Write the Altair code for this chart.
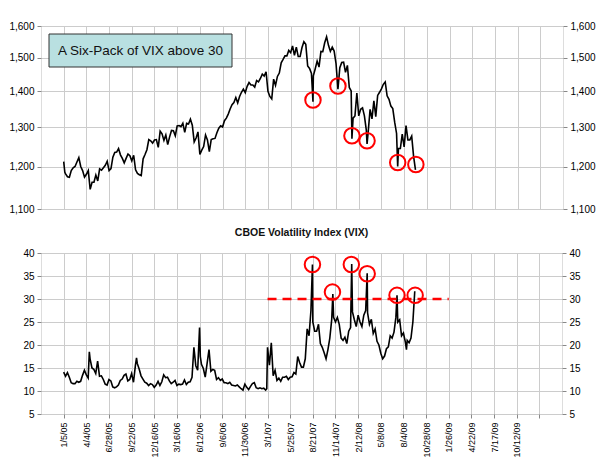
import altair as alt
import pandas as pd

# ---------------- data ----------------
DATE_LABELS = ["1/5/05", "4/4/05", "6/28/05", "9/22/05", "12/16/05", "3/16/06", "6/12/06",
               "9/6/06", "11/30/06", "3/1/07", "5/25/07", "8/21/07", "11/14/07", "2/12/08",
               "5/8/08", "8/4/08", "10/28/08", "1/26/09", "4/22/09", "7/17/09", "10/12/09", ""]
TICK_IDX = [i * 60 for i in range(len(DATE_LABELS))]

SPX_IDX = [0, 3, 5, 10, 15, 20, 25, 30, 35, 40, 45, 50, 55, 60, 65, 70, 75, 80, 85, 90, 95, 100,
           105, 110, 115, 120, 125, 130, 135, 140, 145, 150, 155, 160, 165, 170, 175, 180, 185,
           190, 195, 200, 205, 210, 215, 220, 225, 230, 235, 240, 245, 250,
           255, 260, 265, 270, 275, 280, 285, 290, 295, 300, 305, 310, 315, 320, 325, 330, 335,
           340, 345, 350, 355, 360, 365, 370, 375, 380, 385, 390, 395, 400, 405, 410, 415, 420,
           425, 430, 435, 440, 445, 450, 455, 460, 465, 470, 475, 480, 485, 490, 495, 500,
           505, 510, 515, 520, 525, 530, 535, 540, 545, 550, 555, 560, 565, 570, 575, 580, 585,
           590, 595, 600, 605, 610, 615, 620, 625, 630, 635, 640, 645, 650, 655, 659, 660, 665,
           670, 675, 680, 685, 690, 695, 700, 705, 710, 715, 720, 725, 730, 735, 740, 745, 750,
           755, 760, 762, 765, 770, 775, 780, 785, 790, 795, 800, 802, 805, 810, 815, 820, 825,
           830, 835, 840, 845, 850, 855, 860, 865, 870, 875, 880, 883, 885, 890, 895, 900, 905,
           910, 915, 920, 925, 930]
SPX = [1212, 1186, 1182, 1175, 1174, 1190, 1197, 1200, 1211, 1222, 1200, 1190, 1174, 1181, 1190,
       1145, 1162, 1162, 1179, 1165, 1194, 1191, 1197, 1203, 1213, 1190, 1195, 1223, 1235, 1236,
       1245, 1229, 1220, 1209, 1220, 1231, 1227, 1214, 1228, 1192, 1183, 1180, 1178, 1219, 1230,
       1242, 1268, 1265, 1259, 1267, 1268, 1248,
       1290, 1283, 1266, 1280, 1255, 1275, 1292, 1291, 1278, 1304, 1305, 1302, 1311, 1287, 1311,
       1309, 1322, 1306, 1262, 1272, 1288, 1230, 1241, 1250, 1280, 1267, 1237, 1268, 1270, 1271,
       1286, 1298, 1304, 1301, 1318, 1325, 1336, 1350, 1362, 1368, 1382, 1367, 1385, 1397, 1406,
       1396, 1414, 1425, 1418, 1418,
       1412, 1431, 1427, 1437, 1450, 1444, 1457, 1400, 1385, 1378, 1435, 1417, 1443, 1453, 1484,
       1494, 1505, 1505, 1522, 1515, 1536, 1507, 1532, 1503, 1503, 1531, 1549, 1541, 1474, 1467,
       1452, 1370, 1445, 1466, 1489, 1471, 1519, 1518, 1546, 1565, 1538, 1519, 1532, 1520, 1481,
       1406, 1469, 1485, 1486, 1455, 1476,
       1411, 1401, 1270, 1325, 1331, 1395, 1331, 1349, 1353, 1331, 1293, 1257, 1288, 1349, 1323,
       1373, 1329, 1388, 1397, 1407, 1420, 1427, 1387, 1377, 1358, 1351, 1314, 1284, 1200, 1245,
       1245, 1282, 1249, 1305, 1267, 1267, 1277, 1225, 1192]

VIX_IDX = [0, 5, 10, 15, 20, 25, 30, 35, 40, 45, 50, 55, 60, 65, 68, 70, 75, 80, 85, 90, 95, 100,
           105, 110, 115, 120, 125, 130, 135, 140, 145, 150, 155, 160, 165, 170, 175, 180, 185,
           190, 193, 195, 200, 205, 210, 215, 220, 225, 230, 235, 240, 245, 250,
           255, 260, 265, 270, 275, 280, 285, 290, 295, 300, 305, 310, 315, 320, 325, 330, 335,
           340, 345, 350, 355, 360, 362, 365, 370, 375, 380, 385, 390, 395, 400, 405, 410, 415,
           420, 425, 430, 435, 440, 445, 450, 455, 460, 465, 470, 475, 480, 485, 490, 495, 500,
           505, 510, 515, 520, 525, 530, 535, 538, 540, 545, 550, 555, 560, 565, 570, 575, 580,
           585, 590, 595, 600, 605, 610, 615, 620, 625, 630, 635, 640, 645, 650, 655, 659, 660,
           665, 670, 675, 680, 685, 690, 695, 700, 705, 710, 713, 715, 720, 725, 730, 735, 740,
           745, 750,
           755, 760, 763, 765, 770, 775, 780, 785, 790, 795, 800, 804, 805, 810, 815, 820, 825,
           830, 835, 840, 845, 850, 855, 860, 865, 870, 875, 880, 883, 885, 890, 895, 900, 905,
           908, 910, 915, 920, 925, 930]
VIX = [14.1, 13.2, 14.0, 13.0, 11.8, 11.6, 11.6, 12.1, 11.9, 12.1, 13.4, 14.5, 13.5, 12.8, 18.5,
       17.0, 15.0, 14.7, 13.8, 16.5, 13.2, 13.3, 12.5, 11.5, 11.3, 12.5, 12.2, 10.9, 10.7, 10.9,
       11.3, 12.3, 12.6, 13.4, 13.7, 12.2, 12.5, 13.8, 11.9, 15.5, 17.2, 16.0, 14.8, 13.3, 12.6,
       11.9, 11.7, 11.2, 11.6, 11.4, 10.8, 11.3, 12.1,
       11.2, 12.0, 13.5, 12.9, 13.0, 12.2, 11.6, 11.9, 12.3, 11.2, 11.5, 11.4, 11.5, 12.4, 11.4,
       11.9, 12.0, 13.0, 19.5, 15.5, 14.5, 23.8, 17.5, 15.8, 14.9, 13.0, 16.0, 19.0, 14.3, 14.7,
       14.5, 12.5, 12.9, 12.3, 12.6, 11.8, 11.8, 11.6, 11.9, 11.3, 11.2, 11.1, 11.3, 10.9, 10.5,
       10.2, 11.5, 10.8, 10.3, 11.0, 11.6,
       11.8, 10.7, 10.5, 10.7, 10.5, 10.6, 10.2, 10.5, 19.5, 15.6, 20.5, 13.3, 14.5, 12.3, 12.8,
       12.1, 13.0, 13.0, 13.2, 12.5, 13.0, 13.1, 14.0, 13.7, 17.5, 16.2, 15.2, 15.2, 17.0, 23.5,
       22.0, 27.5, 37.5, 25.0, 23.0, 23.0, 24.5, 20.3, 19.5, 18.3, 17.0, 19.0, 21.5, 25.5, 31.1,
       26.0, 25.0, 26.0, 24.5, 21.5, 21.0, 21.7, 20.3,
       23.0, 23.8, 37.6, 27.2, 25.5, 24.0, 26.5, 25.0, 24.0, 26.5, 27.5, 35.6, 27.0, 24.5, 25.6,
       22.5, 23.5, 20.8, 20.0, 18.2, 17.0, 17.6, 19.2, 19.6, 22.0, 21.5, 22.8, 26.0, 30.8, 25.0,
       25.5, 22.0, 22.6, 20.7, 19.0, 21.0, 20.5, 21.5, 25.0, 31.7]

SPX_CIRCLE_IDX = [659, 725, 762, 802, 883, 931]
SPX_CIRCLE_VAL = [1375, 1415, 1278, 1265, 1210, 1205]
VIX_CIRCLE_IDX = [659, 712, 762, 804, 883, 931]
VIX_CIRCLE_VAL = [37.5, 31.5, 37.5, 35.5, 30.8, 30.8]

THRESHOLD = 30
THRESH_START = 540
THRESH_END = 1020

BOX_TEXT = "A Six-Pack of VIX above 30"
BOTTOM_TITLE = "CBOE Volatility Index (VIX)"
SPX_TICKS = [1100, 1200, 1300, 1400, 1500, 1600]
VIX_TICKS = [5, 10, 15, 20, 25, 30, 35, 40]

# ---------------- frames ----------------
spx_df = pd.DataFrame({"i": SPX_IDX, "v": SPX})
vix_df = pd.DataFrame({"i": VIX_IDX, "v": VIX})
spx_c = pd.DataFrame({"i": SPX_CIRCLE_IDX, "v": SPX_CIRCLE_VAL})
vix_c = pd.DataFrame({"i": VIX_CIRCLE_IDX, "v": VIX_CIRCLE_VAL})
thr_df = pd.DataFrame({"i": [THRESH_START], "i2": [THRESH_END], "v": [THRESHOLD]})
box_df = pd.DataFrame({"t": [BOX_TEXT]})

FONT = "Liberation Sans"
GRID = "#cccccc"
W = 522

xscale = alt.Scale(domain=[-60, 1320], nice=False, zero=False)
label_list = "[" + ",".join("'" + s + "'" for s in DATE_LABELS) + "]"

x_top = alt.X("i:Q", scale=xscale,
              axis=alt.Axis(values=TICK_IDX, labels=False, ticks=False, domain=False,
                            title=None, grid=True, gridColor=GRID))
x_bot = alt.X("i:Q", scale=xscale,
              axis=alt.Axis(values=TICK_IDX, labelExpr=label_list + "[round(datum.value/60)]",
                            labelAngle=-90, labelFontSize=9, title=None, grid=True,
                            gridColor=GRID, tickSize=4, labelPadding=4, domain=False,
                            labelOverlap=False, labelBound=False))

spx_scale = alt.Scale(type="log", domain=[1100, 1600], nice=False)
vix_scale = alt.Scale(domain=[5, 40], nice=False, zero=False)

def yax(orient, values, fmt):
    return alt.Axis(values=values, format=fmt, title=None, orient=orient,
                    grid=(orient == "left"), gridColor=GRID, tickSize=4,
                    labelPadding=3, domain=False)

# top panel
spx_line = alt.Chart(spx_df).mark_line(color="black", strokeWidth=1.6).encode(
    x=x_top, y=alt.Y("v:Q", scale=spx_scale, axis=yax("left", SPX_TICKS, ",")))
spx_right = alt.Chart(spx_df).mark_line(opacity=0).encode(
    x=x_top, y=alt.Y("v:Q", scale=spx_scale, axis=yax("right", SPX_TICKS, ",")))
spx_circ = alt.Chart(spx_c).mark_point(shape="circle", size=240, filled=False,
                                       color="#ff0000", strokeWidth=2, opacity=1).encode(
    x=x_top, y=alt.Y("v:Q", scale=spx_scale, axis=None))
box = alt.Chart(box_df).mark_rect(fill="#b9e0e1", stroke="#333333", strokeWidth=1).encode(
    x=alt.value(8), x2=alt.value(191), y=alt.value(8), y2=alt.value(41))
box_text = alt.Chart(box_df).mark_text(font=FONT, fontSize=13.5, color="#111111").encode(
    x=alt.value(99.5), y=alt.value(25), text="t:N")

top = alt.layer(spx_line, spx_right, spx_circ, box, box_text).resolve_axis(
    y="independent").properties(width=W, height=183)

# bottom panel
vix_line = alt.Chart(vix_df).mark_line(color="black", strokeWidth=1.6).encode(
    x=x_bot, y=alt.Y("v:Q", scale=vix_scale, axis=yax("left", VIX_TICKS, "d")))
vix_right = alt.Chart(vix_df).mark_line(opacity=0).encode(
    x=x_bot, y=alt.Y("v:Q", scale=vix_scale, axis=yax("right", VIX_TICKS, "d")))
thr = alt.Chart(thr_df).mark_rule(color="#ff0000", strokeDash=[9, 6], strokeWidth=2.5).encode(
    x=x_bot, x2="i2:Q", y=alt.Y("v:Q", scale=vix_scale, axis=None))
vix_circ = alt.Chart(vix_c).mark_point(shape="circle", size=240, filled=False,
                                       color="#ff0000", strokeWidth=2, opacity=1).encode(
    x=x_bot, y=alt.Y("v:Q", scale=vix_scale, axis=None))

bottom = alt.layer(vix_line, vix_right, thr, vix_circ).resolve_axis(
    y="independent").properties(
    width=W - 1, height=161,
    title=alt.TitleParams(BOTTOM_TITLE, font=FONT, fontSize=10.5, fontWeight="bold",
                          anchor="middle", color="#111111", offset=10))

chart = alt.vconcat(top, bottom, spacing=12).properties(
    padding={"left": 0, "top": 12, "right": 0, "bottom": 0}
).configure_axis(
    labelFont=FONT, labelFontWeight="bold", labelFontSize=10, labelColor="#333333",
    tickColor="#555555"
).configure_view(stroke="#666666", strokeWidth=1).configure(background="white")

chart.save("out.html", embed_options={"renderer": "svg", "actions": False})
